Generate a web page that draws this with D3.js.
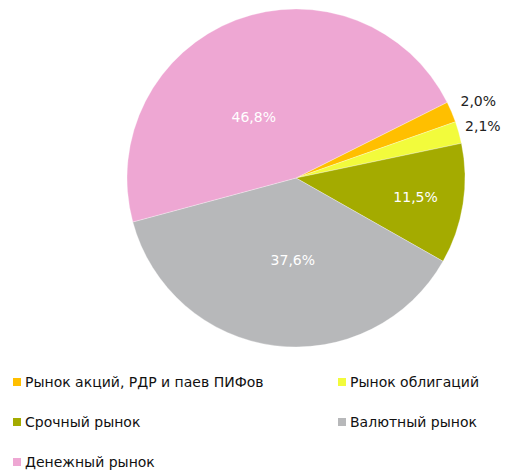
<!DOCTYPE html>
<html>
<head>
<meta charset="utf-8">
<script src="https://cdn.jsdelivr.net/npm/d3@7"></script>
<style>
  body { margin: 0; background: #fff; }
  svg { font-family: "DejaVu Sans", Verdana, sans-serif; }
</style>
</head>
<body>
<svg id="chart"></svg>
<script>
// data
const categories = [
  "Рынок акций, РДР и паев ПИФов",
  "Рынок облигаций",
  "Срочный рынок",
  "Валютный рынок",
  "Денежный рынок"
];
const shares = [2.0, 2.1, 11.5, 37.6, 46.8];
const colors = ["#ffbf00", "#f2fb3c", "#a4ab00", "#b7b8ba", "#eea7d3"];

const width = 508, height = 471;
const cx = 296, cy = 178, radius = 169;
const startDeg = 63.4;

// label placement: [radius, angle shift in degrees, inside?]
const labelLayout = [
  [198, 0, false],
  [194, 0, false],
  [121, 0, true],
  [82, -5, true],
  [74, -14, true]
];

const svg = d3.select("#chart").attr("width", width).attr("height", height);

const pie = d3.pie().sort(null).value(d => d)
  .startAngle(startDeg * Math.PI / 180)
  .endAngle(startDeg * Math.PI / 180 + 2 * Math.PI);
const arcs = pie(shares);
const arc = d3.arc().innerRadius(0).outerRadius(radius);

const g = svg.append("g").attr("transform", `translate(${cx},${cy})`);

g.selectAll("path.slice")
  .data(arcs)
  .join("path")
  .attr("class", "slice")
  .attr("d", arc)
  .attr("fill", (d, i) => colors[i])
  .attr("stroke", "#fff")
  .attr("stroke-width", 0.3);

const fmt = v => v.toFixed(1).replace(".", ",") + "%";

g.selectAll("text.lbl")
  .data(arcs)
  .join("text")
  .attr("class", "lbl")
  .attr("x", (d, i) => {
    const a = (d.startAngle + d.endAngle) / 2 + labelLayout[i][1] * Math.PI / 180;
    return Math.sin(a) * labelLayout[i][0];
  })
  .attr("y", (d, i) => {
    const a = (d.startAngle + d.endAngle) / 2 + labelLayout[i][1] * Math.PI / 180;
    return -Math.cos(a) * labelLayout[i][0];
  })
  .attr("text-anchor", "middle")
  .attr("dominant-baseline", "central")
  .attr("font-size", 14)
  .attr("fill", (d, i) => labelLayout[i][2] ? "#fff" : "#222")
  .text(d => fmt(d.data));

// legend
const legendCols = [13, 338];
const legendRows = [382, 422, 462];
const legend = svg.append("g");
const items = legend.selectAll("g")
  .data(categories)
  .join("g")
  .attr("transform", (d, i) => `translate(${legendCols[i % 2]},${legendRows[Math.floor(i / 2)]})`);
items.append("rect")
  .attr("x", 0).attr("y", -4)
  .attr("width", 8).attr("height", 8)
  .attr("fill", (d, i) => colors[i]);
items.append("text")
  .attr("x", 12)
  .attr("y", 0)
  .attr("dominant-baseline", "central")
  .attr("font-size", 14)
  .attr("fill", "#111")
  .text(d => d);
</script>
</body>
</html>
